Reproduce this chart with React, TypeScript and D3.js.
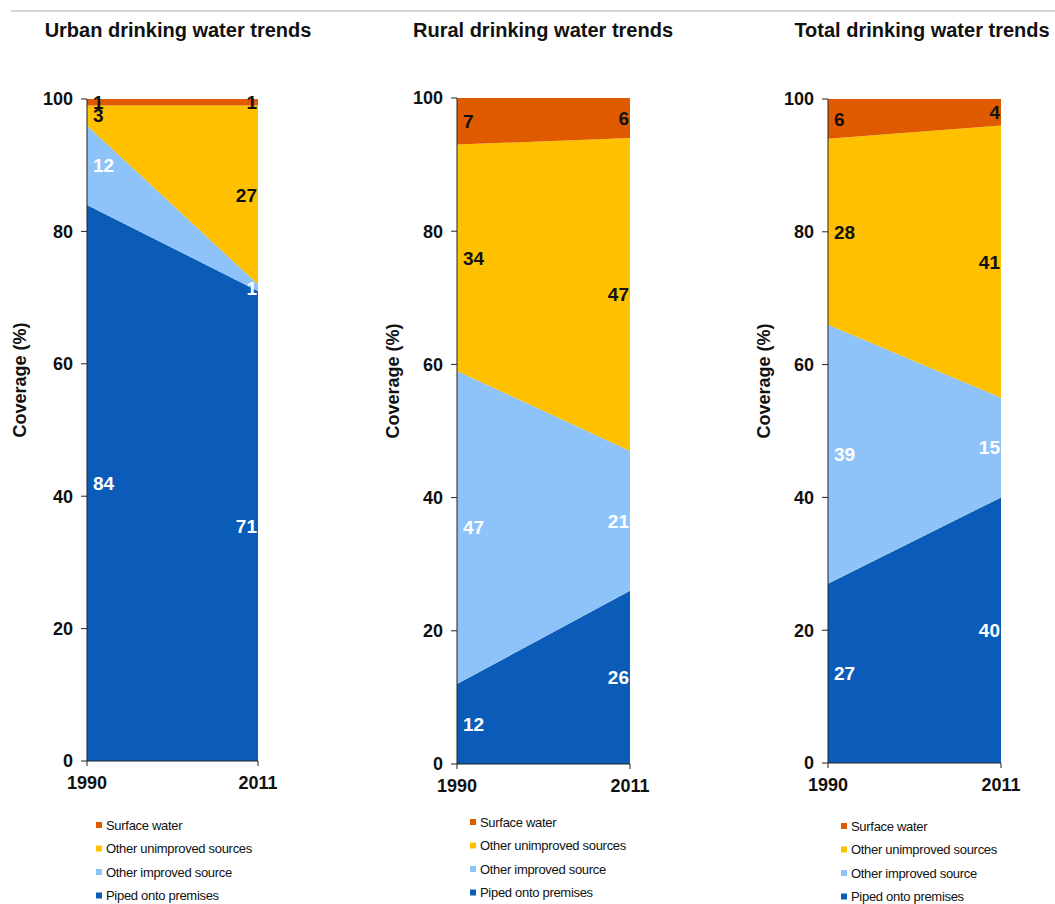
import React from "react";
import * as d3 from "d3";

const years = ["1990", "2011"];
const seriesKeys = ["piped", "improved", "unimproved", "surface"];
const seriesNames = ["Piped onto premises", "Other improved source", "Other unimproved sources", "Surface water"];
const seriesColors = ["#0a5cb8", "#8ec3fa", "#ffc000", "#e05a00"];
const labelColors = ["#ffffff", "#ffffff", "#111111", "#111111"];

const urban1990 = [84, 12, 3, 1];
const urban2011 = [71, 1, 27, 1];
const rural1990 = [12, 47, 34, 7];
const rural2011 = [26, 21, 47, 6];
const total1990 = [27, 39, 28, 6];
const total2011 = [40, 15, 41, 4];

const yTicks = [0, 20, 40, 60, 80, 100];
const titles = ["Urban drinking water trends", "Rural drinking water trends", "Total drinking water trends"];

const panels = [
  { title: titles[0], values: [urban1990, urban2011], left: 87, right: 258, top: 99, bottom: 761, titleX: 178, yTitleX: 20, legendX: 96, legendY: 825 },
  { title: titles[1], values: [rural1990, rural2011], left: 457, right: 630, top: 98, bottom: 764, titleX: 543, yTitleX: 393, legendX: 470, legendY: 822 },
  { title: titles[2], values: [total1990, total2011], left: 828, right: 1001, top: 99, bottom: 763, titleX: 922, yTitleX: 764, legendX: 841, legendY: 826 },
];

const FONT = "'Liberation Sans', Arial, sans-serif";

function Panel({ p }: { p: any }) {
  const rows = years.map((yr, i) => {
    const r: any = { year: yr };
    seriesKeys.forEach((k, j) => (r[k] = p.values[i][j]));
    return r;
  });
  const stacked = d3.stack<any>().keys(seriesKeys)(rows);
  const x = d3.scalePoint<string>().domain(years).range([p.left, p.right]);
  const y = d3.scaleLinear().domain([0, 100]).range([p.bottom, p.top]);
  const area = d3
    .area<any>()
    .x((d) => x(d.data.year) as number)
    .y0((d) => y(d[0]))
    .y1((d) => y(d[1]));
  return (
    <g>
      <text x={p.titleX} y={37} textAnchor="middle" fontFamily={FONT} fontWeight="bold" fontSize={20} fill="#111">
        {p.title}
      </text>
      {stacked.map((s, i) => (
        <path key={i} d={area(s) || ""} fill={seriesColors[i]} />
      ))}
      {stacked.map((s, i) =>
        s.map((d, j) => (
          <text
            key={`${i}-${j}`}
            x={j === 0 ? p.left + 6 : p.right - 1}
            y={y((d[0] + d[1]) / 2)}
            dy="0.36em"
            textAnchor={j === 0 ? "start" : "end"}
            fontFamily={FONT}
            fontWeight="bold"
            fontSize={19}
            fill={labelColors[i]}
          >
            {d[1] - d[0]}
          </text>
        ))
      )}
      <line x1={p.left} x2={p.left} y1={p.top} y2={p.bottom} stroke="#222" strokeWidth={1} />
      <line x1={p.left} x2={p.right} y1={p.bottom} y2={p.bottom} stroke="#222" strokeWidth={1} />
      {yTicks.map((t) => (
        <g key={t}>
          <line x1={p.left - 6} x2={p.left} y1={y(t)} y2={y(t)} stroke="#222" />
          <text x={p.left - 14} y={y(t)} dy="0.36em" textAnchor="end" fontFamily={FONT} fontWeight="bold" fontSize={18} fill="#111">
            {t}
          </text>
        </g>
      ))}
      {years.map((yr) => (
        <g key={yr}>
          <line x1={x(yr)} x2={x(yr)} y1={p.bottom} y2={p.bottom + 5} stroke="#222" />
          <text x={x(yr)} y={p.bottom + 28} textAnchor="middle" fontFamily={FONT} fontWeight="bold" fontSize={18} fill="#111">
            {yr}
          </text>
        </g>
      ))}
      <text
        transform={`translate(${p.yTitleX},${(p.top + p.bottom) / 2 - 50}) rotate(-90)`}
        dy="0.36em"
        textAnchor="middle"
        fontFamily={FONT}
        fontWeight="bold"
        fontSize={18}
        fill="#111"
      >
        Coverage (%)
      </text>
      {[3, 2, 1, 0].map((si, k) => (
        <g key={si}>
          <rect x={p.legendX} y={p.legendY + k * 23.5 - 3} width={6} height={6} fill={seriesColors[si]} />
          <text x={p.legendX + 10} y={p.legendY + k * 23.5} dy="0.36em" fontFamily={FONT} fontSize={13} letterSpacing={-0.3} fill="#111">
            {seriesNames[si]}
          </text>
        </g>
      ))}
    </g>
  );
}

export default function App() {
  return (
    <svg width={1055} height={904} style={{ position: "absolute", left: 0, top: 0, background: "#fff" }}>
      <rect width={1055} height={904} fill="#fff" />
      <line x1={11} x2={1055} y1={11} y2={11} stroke="#aaa" strokeWidth={1} />
      {panels.map((p, i) => (
        <Panel key={i} p={p} />
      ))}
    </svg>
  );
}
